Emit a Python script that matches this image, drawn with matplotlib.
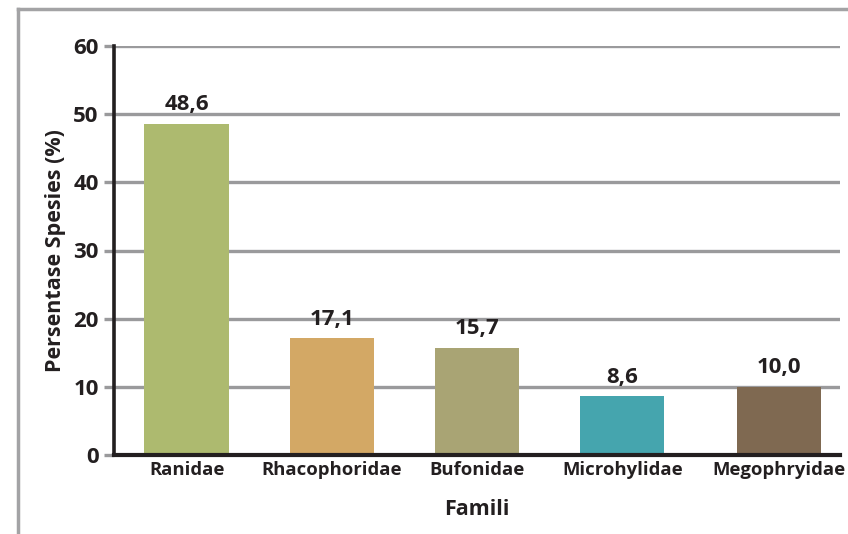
import numpy as np
import matplotlib
matplotlib.use("Agg")
import matplotlib.pyplot as plt
from matplotlib.lines import Line2D

plt.rcParams['font.family'] = ['Open Sans', 'DejaVu Sans']
plt.rcParams['font.weight'] = 'bold'

famili = ['Ranidae', 'Rhacophoridae', 'Bufonidae', 'Microhylidae', 'Megophryidae']
persen = [48.6, 17.1, 15.7, 8.6, 10.0]
label = ['48,6', '17,1', '15,7', '8,6', '10,0']
warna = ['#adba6f', '#d3a865', '#a9a474', '#45a5ae', '#7f6951']
yticks = [0, 10, 20, 30, 40, 50, 60]

teks = '#231f20'
abu = '#9a9a9c'

fig = plt.figure(figsize=(8.48, 5.34), dpi=100)
ax = fig.add_axes([114/848, 1-455/534, (840-114)/848, (455-46)/534])

# last bar sits a little further right than the even spacing
x = np.arange(len(famili)) + np.array([0, 0, 0, 0, 0.08])
ax.set_ylim(0, 60)
ax.set_xlim(-0.5, 4.5)
ax.set_yticks(yticks)
ax.yaxis.grid(True, color=abu, lw=2.4)
ax.set_axisbelow(True)

bars = ax.bar(x, persen, width=0.58, color=warna, zorder=2)
for b, t in zip(bars, label):
    ax.text(b.get_x() + b.get_width()/2, b.get_height() + 1.3, t,
            ha='center', va='bottom', fontsize=16, color=teks, fontweight='bold')

ax.set_xticks(x)
ax.set_xticklabels(famili, fontsize=13.3, color=teks, fontweight='bold')
ax.set_yticklabels([str(v) for v in yticks], fontsize=16, color=teks, fontweight='bold')
ax.tick_params(axis='x', length=0, pad=4)
ax.tick_params(axis='y', length=7, width=2.4, color=abu, pad=4)

for s in ['top', 'right']:
    ax.spines[s].set_visible(False)
ax.spines['left'].set_linewidth(2.6)
ax.spines['left'].set_color(teks)
ax.spines['bottom'].set_linewidth(3)
ax.spines['bottom'].set_color(teks)
ax.spines['left'].set_zorder(3)

ax.set_xlabel('Famili', fontsize=15.5, color=teks, fontweight='bold', labelpad=15)
ax.set_ylabel('Persentase Spesies (%)', fontsize=15.5, color=teks, fontweight='bold', labelpad=5)

# frame around the chart (left and top edges only visible)
fig.add_artist(Line2D([18/848, 18/848], [0, 1-9/534], color='#a3a3a5', lw=2.5))
fig.add_artist(Line2D([18/848, 1], [1-9/534, 1-9/534], color='#a3a3a5', lw=2.5))

fig.savefig('out.png', dpi=100)
